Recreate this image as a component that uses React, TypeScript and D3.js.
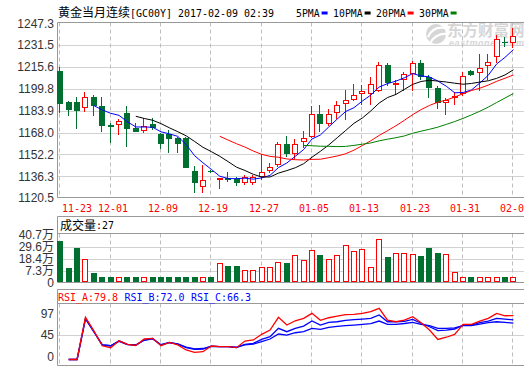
import React, { useEffect, useRef } from 'react';
import * as d3 from 'd3';

// trading days shown (55 sessions)
const dates = [
  '11-23', '11-24', '11-25', '11-28', '11-29', '11-30', '12-01', '12-02', '12-05', '12-06',
  '12-07', '12-08', '12-09', '12-12', '12-13', '12-14', '12-15', '12-16', '12-19', '12-20',
  '12-21', '12-22', '12-23', '12-26', '12-27', '12-28', '12-29', '12-30', '01-03', '01-04',
  '01-05', '01-06', '01-09', '01-10', '01-11', '01-12', '01-13', '01-16', '01-17', '01-18',
  '01-19', '01-20', '01-23', '01-24', '01-25', '01-26', '01-27', '01-30', '01-31', '02-01',
  '02-02', '02-03', '02-06', '02-07', '02-08',
];

const opens = [
  1212.7, 1190.4, 1190.4, 1185.6, 1193.6, 1187.3, 1173.5, 1173.3, 1182.2, 1171.3,
  1168.9, 1174.2, 1167.0, 1166.8, 1164.3, 1164.3, 1140.1, 1128.3, 1140.1, 1134.1,
  1135.0, 1134.3, 1131.2, 1131.2, 1135.5, 1140.3, 1144.3, 1159.5, 1152.2, 1160.9,
  1165.0, 1181.5, 1174.0, 1182.0, 1188.5, 1191.9, 1195.8, 1195.8, 1198.2, 1217.0,
  1203.8, 1205.9, 1210.3, 1218.3, 1208.5, 1200.6, 1189.2, 1193.6, 1195.8, 1212.7,
  1211.0, 1216.3, 1222.6, 1234.0, 1232.8,
];
const highs = [
  1215.8, 1191.1, 1194.0, 1197.4, 1195.3, 1193.8, 1175.2, 1177.9, 1187.3, 1175.2,
  1178.8, 1178.4, 1167.7, 1169.9, 1164.8, 1164.8, 1143.7, 1144.3, 1140.8, 1135.0,
  1139.4, 1135.5, 1137.2, 1137.2, 1152.2, 1145.7, 1160.9, 1165.7, 1163.0, 1169.1,
  1187.3, 1187.8, 1184.9, 1190.9, 1198.9, 1203.0, 1202.5, 1208.5, 1219.4, 1218.7,
  1206.2, 1211.7, 1220.2, 1220.7, 1209.8, 1201.8, 1193.3, 1197.2, 1212.2, 1213.4,
  1224.8, 1224.8, 1238.8, 1237.2, 1244.1,
];
const lows = [
  1182.0, 1180.2, 1170.6, 1183.1, 1180.2, 1168.6, 1160.7, 1166.5, 1157.8, 1168.2,
  1167.5, 1169.9, 1156.1, 1153.4, 1153.4, 1142.3, 1124.4, 1124.4, 1138.7, 1127.1,
  1132.4, 1129.4, 1129.9, 1130.2, 1133.6, 1138.9, 1142.8, 1150.5, 1149.0, 1156.6,
  1164.1, 1168.6, 1172.8, 1177.9, 1177.1, 1191.1, 1188.0, 1188.0, 1197.7, 1201.8,
  1195.3, 1198.2, 1198.2, 1206.2, 1193.3, 1184.9, 1180.8, 1188.0, 1194.5, 1209.0,
  1198.2, 1206.2, 1218.3, 1230.4, 1229.2,
];
const closes = [
  1188.5, 1184.4, 1183.9, 1193.6, 1187.5, 1172.8, 1172.1, 1176.4, 1170.4, 1168.6,
  1172.6, 1171.5, 1159.5, 1163.1, 1159.5, 1142.5, 1131.6, 1133.6, 1139.2, 1134.8,
  1133.8, 1131.2, 1135.5, 1135.5, 1139.6, 1142.8, 1159.5, 1152.2, 1159.5, 1164.3,
  1181.3, 1174.0, 1181.5, 1187.8, 1191.6, 1195.3, 1198.2, 1203.0, 1217.0, 1204.2,
  1204.2, 1210.3, 1218.3, 1208.5, 1200.6, 1189.2, 1191.6, 1194.5, 1209.3, 1209.8,
  1214.6, 1219.4, 1235.7, 1233.4, 1238.1,
];

// volume, in 万 (10k contracts)
const volumes = [
  35.3, 10.0, 28.7, 18.1, 5.3, 1.5, 1.5, 1.5, 1.5, 1.5,
  1.5, 1.5, 1.5, 1.5, 1.5, 1.5, 1.5, 1.5, 1.5, 14.1,
  11.6, 11.6, 7.8, 7.8, 10.3, 10.3, 15.0, 14.1, 21.6, 17.2,
  26.3, 21.9, 17.8, 21.6, 31.0, 25.4, 27.2, 10.3, 36.9, 20.0,
  23.5, 23.5, 22.5, 20.9, 28.5, 23.8, 22.5, 5.6, 1.2, 1.2,
  1.2, 1.2, 1.2, 1.2, 1.2,
];

const rsiA = [
  null, 0, 0, 76.7, 52, 25, 21.5, 34, 27.6, 25.5,
  37.3, 38.5, 25.1, 31.2, 26.5, 17.3, 13.1, 14.2, 24.5, 23.3,
  23.3, 21.5, 33.6, 35.5, 45.8, 53.6, 76.7, 62.7, 70.5, 74.9,
  84.0, 71.3, 76.0, 79.0, 81.5, 82.2, 84.0, 87.0, 93.0, 71.8,
  68.7, 71.8, 77.8, 67.0, 53.6, 36.5, 40.5, 45.8, 64.0, 64.0,
  70.0, 74.9, 84.0, 79.6, 79.8,
];
const rsiB = [
  null, 0, 0, 74.9, 51, 26, 25, 34, 27.6, 26.4,
  35.5, 38.5, 26.4, 31.2, 28.2, 21.5, 18.5, 19, 24.5, 23.3,
  23.3, 21.5, 27.6, 29.4, 36.7, 41.5, 56.7, 50.6, 56.7, 60.9,
  70.0, 62.7, 67.6, 68.7, 71.3, 72.4, 73.6, 74.9, 81.0, 68.7,
  68.7, 69.5, 73.0, 66.0, 59.6, 52.4, 53.6, 55.5, 62.7, 62.7,
  67.0, 70.0, 74.9, 73.6, 72.0,
];
const rsiC = [
  null, 0, 0, 74.0, 50, 27, 25, 33, 27, 26.4,
  35, 37.5, 27, 30.5, 28.5, 22.5, 19.5, 20, 24, 23.5,
  23.5, 22.5, 26.5, 28, 32.4, 37.3, 46.4, 44.5, 48.7, 50.6,
  56.7, 54.9, 58.5, 60.4, 61.5, 62.7, 64.0, 65.1, 70.0, 64.0,
  64.0, 65.5, 67.6, 64.0, 61.5, 56.7, 56.7, 57.5, 61.5, 61.5,
  64.5, 67.0, 68.7, 67.6, 66.3,
];

const priceTicks = [1247.3, 1231.5, 1215.6, 1199.8, 1183.9, 1168.0, 1152.2, 1136.3, 1120.5];
const volTicks = [40.7, 29.6, 18.4, 7.3, -3.7];
const volTickLabels = ['40.7万', '29.6万', '18.4万', '7.3万', '0'];
const rsiTicks = [97, 45, 0];

const maPeriods = [5, 10, 20, 30];
const maLabels = ['5PMA', '10PMA', '20PMA', '30PMA'];
const maColors = ['#0000ff', '#000000', '#ff0000', '#008000'];

const titleName = '黄金当月连续';
const titleInfo = '[GC00Y] 2017-02-09 02:39';
const volHeaderLabel = '成交量';
const volHeaderValue = ':27';
const rsiHeader = [
  { text: 'RSI_A:79.8', color: '#ff0000' },
  { text: 'RSI_B:72.0', color: '#0000ff' },
  { text: 'RSI_C:66.3', color: '#0000ff' },
];

const W = 524;
const H = 369;
const LEFT = 58;
const RIGHT = 540;
const MONO = '"DejaVu Sans Mono", "Liberation Mono", monospace';
const CJK = '"Noto Sans CJK SC", sans-serif';
const SANS = '"Liberation Sans", Arial, "Noto Sans CJK SC", sans-serif';
const UP = '#ff0000';
const DOWN = '#007030';
const FRAME = '#999999';
const GRID = '#d2d2d2';
const VGRID = '#bdbdbd';

export default function App() {
  const svgRef = useRef<SVGSVGElement | null>(null);

  useEffect(() => {
    if (!svgRef.current) return;
    const svg = d3.select(svgRef.current);
    svg.selectAll('*').remove();

    const main = { top: 22.5, bottom: 197.5 };
    const volHead = { top: 216.5 };
    const vol = { top: 233.5, bottom: 282.5 };
    const rsiHead = { top: 289.5 };
    const rsi = { top: 303.5, bottom: 365.5 };

    const x = d3.scalePoint<string>().domain(dates).range([60.3, 513.4]);
    const cx = (i: number) => Math.round(x(dates[i]) as number);
    const yPrice = d3.scaleLinear().domain([1120.5, 1247.3]).range([198, 23.3]);
    const yVol = d3.scaleLinear().domain([-3.7, 40.7]).range([282.3, 235]);
    const yRsi = d3.scaleLinear().domain([0, 97]).range([359.5, 306.2]);

    svg.append('rect').attr('width', W).attr('height', H).attr('fill', '#fff');

    // watermark
    const wm = svg.append('g').attr('fill', '#d6d6d6');
    wm.append('circle').attr('cx', 436).attr('cy', 34).attr('r', 10);
    wm.append('path').attr('d', 'M428,37 Q433,26 445,28').attr('stroke', '#fff').attr('stroke-width', 2.2).attr('fill', 'none');
    wm.append('path').attr('d', 'M430,43 Q436,33 447,34').attr('stroke', '#fff').attr('stroke-width', 2.2).attr('fill', 'none');
    wm.append('text').attr('x', 447).attr('y', 36).attr('font-family', CJK).attr('font-size', 15.5)
      .attr('font-weight', 700).text('东方财富网');
    wm.append('text').attr('x', 449).attr('y', 46).attr('font-family', SANS).attr('font-size', 9)
      .attr('font-weight', 700).attr('font-style', 'italic').attr('letter-spacing', 0.6).text('eastmoney.com');

    // horizontal grid lines
    const hgrid = (ys: number[]) => ys.forEach(yy => {
      svg.append('line').attr('x1', LEFT).attr('x2', RIGHT)
        .attr('y1', Math.round(yy) + 0.5).attr('y2', Math.round(yy) + 0.5)
        .attr('stroke', GRID);
    });
    hgrid(priceTicks.slice(1, -1).map(t => yPrice(t)));
    hgrid(volTicks.slice(1, -1).map(t => yVol(t)));
    hgrid([yRsi(45)]);

    // vertical dashed grid lines
    const gridIdx = d3.range(0, dates.length, 6);
    [[main.top, main.bottom], [vol.top, vol.bottom], [rsi.top, rsi.bottom]].forEach(([a, b]) => {
      gridIdx.forEach(i => {
        svg.append('line').attr('x1', cx(i) - 0.5).attr('x2', cx(i) - 0.5)
          .attr('y1', a).attr('y2', b)
          .attr('stroke', VGRID).attr('stroke-dasharray', '4,3');
      });
    });

    // frames
    const frame = (top: number, bottom: number) => {
      const p = d3.path();
      p.moveTo(RIGHT, top); p.lineTo(LEFT - 0.5, top); p.lineTo(LEFT - 0.5, bottom); p.lineTo(RIGHT, bottom);
      svg.append('path').attr('d', p.toString()).attr('fill', 'none').attr('stroke', FRAME);
    };
    frame(main.top, main.bottom);
    frame(volHead.top, vol.bottom);
    svg.append('line').attr('x1', LEFT).attr('x2', RIGHT).attr('y1', vol.top).attr('y2', vol.top).attr('stroke', FRAME);
    frame(rsiHead.top, rsi.bottom);
    svg.append('line').attr('x1', LEFT).attr('x2', RIGHT).attr('y1', rsi.top).attr('y2', rsi.top).attr('stroke', FRAME);

    // price axis
    svg.append('g')
      .attr('transform', `translate(${LEFT},0)`)
      .call(d3.axisLeft(yPrice).tickValues(priceTicks).tickSize(0).tickPadding(4).tickFormat(d3.format('.1f')))
      .call(s => s.select('.domain').remove())
      .call(s => s.selectAll('text').attr('fill', '#333').attr('font-size', 12).attr('font-family', SANS));

    // volume axis
    svg.append('g')
      .attr('transform', `translate(${LEFT},0)`)
      .call(d3.axisLeft(yVol).tickValues(volTicks).tickSize(0).tickPadding(4)
        .tickFormat((_d, i) => volTickLabels[i]))
      .call(s => s.select('.domain').remove())
      .call(s => s.selectAll('text').attr('fill', '#333').attr('font-size', 12).attr('font-family', SANS));

    // rsi axis labels (kept inside the panel)
    rsiTicks.forEach(t => {
      const yy = Math.max(rsi.top + 10, Math.min(rsi.bottom - 9, yRsi(t)));
      svg.append('text').attr('x', LEFT - 4).attr('y', yy).attr('dy', '0.35em')
        .attr('text-anchor', 'end').attr('fill', '#333').attr('font-size', 12).attr('font-family', SANS)
        .text(String(t));
    });

    // date labels
    gridIdx.forEach(i => {
      const lx = Math.max(62, cx(i) - 13);
      svg.append('text').attr('x', lx).attr('y', 212)
        .attr('fill', '#ff0000').attr('font-size', 11).attr('font-family', MONO)
        .attr('textLength', 30).attr('lengthAdjust', 'spacingAndGlyphs')
        .text(dates[i]);
    });

    // title and legend
    svg.append('text').attr('x', 58).attr('y', 17).attr('font-family', CJK).attr('font-size', 12)
      .attr('fill', '#000').text(titleName);
    svg.append('text').attr('x', 130).attr('y', 16.5).attr('font-family', MONO).attr('font-size', 11)
      .attr('textLength', titleInfo.length * 6).attr('lengthAdjust', 'spacingAndGlyphs')
      .attr('fill', '#000').text(titleInfo);
    let lx = 296;
    maLabels.forEach((lab, k) => {
      const tw = lab.length * 5.9;
      svg.append('text').attr('x', lx).attr('y', 16.5).attr('font-family', MONO).attr('font-size', 11)
        .attr('textLength', tw).attr('lengthAdjust', 'spacingAndGlyphs').attr('fill', '#000').text(lab);
      svg.append('rect').attr('x', lx + tw + 2).attr('y', 11.5).attr('width', 6).attr('height', 3)
        .attr('fill', maColors[k]);
      lx += tw + 13.5;
    });

    // candles
    const cg = svg.append('g');
    dates.forEach((_d, i) => {
      const c = cx(i);
      const up = closes[i] >= opens[i];
      const yt = Math.round(yPrice(Math.max(opens[i], closes[i])));
      const yb = Math.max(yt + 1, Math.round(yPrice(Math.min(opens[i], closes[i]))));
      const yh = Math.round(yPrice(highs[i]));
      const yl = Math.round(yPrice(lows[i]));
      if (up) {
        if (yh < yt) cg.append('line').attr('x1', c - 0.5).attr('x2', c - 0.5).attr('y1', yh).attr('y2', yt).attr('stroke', UP);
        if (yl > yb) cg.append('line').attr('x1', c - 0.5).attr('x2', c - 0.5).attr('y1', yb).attr('y2', yl).attr('stroke', UP);
        cg.append('rect').attr('x', c - 2.5).attr('y', yt + 0.5).attr('width', 5).attr('height', Math.max(1, yb - yt - 1))
          .attr('fill', '#fff').attr('stroke', UP);
      } else {
        cg.append('line').attr('x1', c - 0.5).attr('x2', c - 0.5).attr('y1', yh).attr('y2', yl).attr('stroke', DOWN);
        cg.append('rect').attr('x', c - 3).attr('y', yt).attr('width', 6).attr('height', yb - yt).attr('fill', DOWN);
      }
    });

    // moving averages
    maPeriods.forEach((n, k) => {
      const ma = closes.map((_c, i) => (i >= n - 1 ? (d3.mean(closes.slice(i - n + 1, i + 1)) as number) : null));
      const line = d3.line<number | null>()
        .defined(v => v !== null)
        .x((_v, i) => x(dates[i]) as number)
        .y(v => yPrice(v as number));
      svg.append('path').datum(ma).attr('d', line).attr('fill', 'none')
        .attr('stroke', maColors[k]).attr('stroke-width', 1);
    });

    // volume bars
    const vg = svg.append('g');
    volumes.forEach((v, i) => {
      const c = cx(i);
      const yt = Math.round(yVol(v));
      const yb = Math.round(vol.bottom - 0.5);
      if (closes[i] >= opens[i]) {
        vg.append('rect').attr('x', c - 2.5).attr('y', yt + 0.5).attr('width', 5).attr('height', Math.max(1, yb - yt - 1))
          .attr('fill', '#fff').attr('stroke', UP);
      } else {
        vg.append('rect').attr('x', c - 3).attr('y', yt).attr('width', 6).attr('height', yb - yt).attr('fill', DOWN);
      }
    });

    svg.append('text').attr('x', 60).attr('y', 229.5).attr('font-family', CJK).attr('font-size', 12)
      .attr('fill', '#000').text(volHeaderLabel);
    svg.append('text').attr('x', 96).attr('y', 229).attr('font-family', MONO).attr('font-size', 11)
      .attr('textLength', volHeaderValue.length * 6).attr('lengthAdjust', 'spacingAndGlyphs')
      .attr('fill', '#000').text(volHeaderValue);

    // rsi lines
    const rsiLine = d3.line<number | null>()
      .defined(v => v !== null)
      .x((_v, i) => x(dates[i]) as number)
      .y(v => yRsi(v as number));
    [[rsiC, '#0000ff'], [rsiB, '#0000ff'], [rsiA, '#ff0000']].forEach(([data, color]) => {
      svg.append('path').datum(data as (number | null)[]).attr('d', rsiLine).attr('fill', 'none')
        .attr('stroke', color as string).attr('stroke-width', 1.3);
    });

    let rx = 58;
    rsiHeader.forEach(h => {
      svg.append('text').attr('x', rx).attr('y', 300.5).attr('font-family', MONO).attr('font-size', 11)
        .attr('textLength', h.text.length * 6).attr('lengthAdjust', 'spacingAndGlyphs')
        .attr('fill', h.color).text(h.text);
      rx += h.text.length * 6 + 6.5;
    });
  }, []);

  return (
    <div>
      <style>{'body{margin:0}'}</style>
      <svg ref={svgRef} width={W} height={H} style={{ display: 'block' }} />
    </div>
  );
}
